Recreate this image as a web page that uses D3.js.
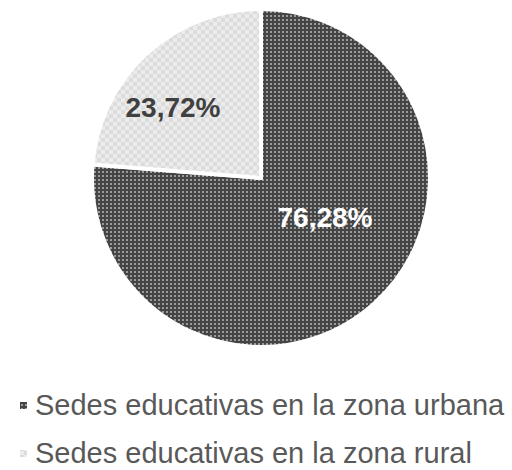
<!DOCTYPE html>
<html>
<head>
<meta charset="utf-8">
<script src="https://cdn.jsdelivr.net/npm/d3@7"></script>
<style>
  html, body { margin: 0; padding: 0; background: #fff; }
  svg { display: block; }
</style>
</head>
<body>
<svg id="chart" width="512" height="470"></svg>
<script>
// Data
const categories = ["Sedes educativas en la zona urbana", "Sedes educativas en la zona rural"];
const values = [76.28, 23.72];
const valueLabels = ["76,28%", "23,72%"];

const svg = d3.select("#chart");
const defs = svg.append("defs");

// Dark dotted grid fill (urban)
const pDark = defs.append("pattern")
  .attr("id", "pat-urban").attr("patternUnits", "userSpaceOnUse")
  .attr("width", 4).attr("height", 4);
pDark.append("rect").attr("width", 4).attr("height", 4).attr("fill", "#444444");
pDark.append("rect").attr("x", 1).attr("y", 1).attr("width", 2).attr("height", 2).attr("fill", "#8e8e8e");
pDark.append("rect").attr("x", 1.5).attr("y", 1.5).attr("width", 1).attr("height", 1).attr("fill", "#c4c4c4");

// Light checkerboard fill (rural)
const pLight = defs.append("pattern")
  .attr("id", "pat-rural").attr("patternUnits", "userSpaceOnUse")
  .attr("width", 8).attr("height", 8);
pLight.append("rect").attr("width", 8).attr("height", 8).attr("fill", "#ececec");
pLight.append("rect").attr("width", 4).attr("height", 4).attr("fill", "#dcdcdc");
pLight.append("rect").attr("x", 4).attr("y", 4).attr("width", 4).attr("height", 4).attr("fill", "#dcdcdc");

const fills = ["url(#pat-urban)", "url(#pat-rural)"];
const labelColors = ["#ffffff", "#404040"];
// nudges applied to each label after placing it at the slice centroid
const labelNudge = [[1, -29], [-25, -3]];

const cx = 261, cy = 178, r = 169;

const pie = d3.pie().sort(null).value(d => d)(values);
const arc = d3.arc().innerRadius(0).outerRadius(r);
const labelArc = d3.arc().innerRadius(r * 0.55).outerRadius(r * 0.55);

const g = svg.append("g").attr("transform", `translate(${cx},${cy})`);

g.selectAll("path.slice")
  .data(pie)
  .join("path")
  .attr("class", "slice")
  .attr("d", arc)
  .attr("fill", (d, i) => fills[i])
  .attr("stroke", "#ffffff")
  .attr("stroke-width", 4)
  .attr("stroke-linejoin", "round");

g.selectAll("text.val")
  .data(pie)
  .join("text")
  .attr("class", "val")
  .attr("transform", (d, i) => {
    const [x, y] = labelArc.centroid(d);
    return `translate(${x + labelNudge[i][0]},${y + labelNudge[i][1]})`;
  })
  .attr("text-anchor", "middle")
  .attr("dy", "0.36em")
  .attr("font-family", "'Liberation Sans', Arial, sans-serif")
  .attr("font-weight", "bold")
  .attr("font-size", 28)
  .attr("fill", (d, i) => labelColors[i])
  .text((d, i) => valueLabels[i]);

// Legend
const legend = svg.append("g").attr("transform", "translate(20,0)");
const rows = legend.selectAll("g.row")
  .data(categories)
  .join("g")
  .attr("class", "row")
  .attr("transform", (d, i) => `translate(0,${415 + i * 48})`);

rows.append("rect")
  .attr("x", 0).attr("y", -13)
  .attr("width", 7).attr("height", 7)
  .attr("fill", (d, i) => fills[i]);

rows.append("text")
  .attr("x", 15)
  .attr("font-family", "'Liberation Sans', Arial, sans-serif")
  .attr("font-size", 29)
  .attr("fill", "#595959")
  .text(d => d);
</script>
</body>
</html>
